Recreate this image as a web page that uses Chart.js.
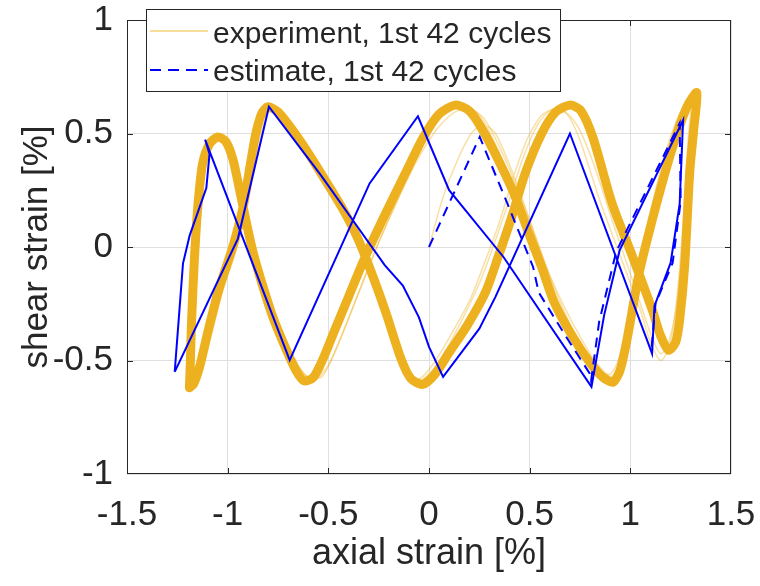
<!DOCTYPE html>
<html>
<head>
<meta charset="utf-8">
<script src="https://cdn.jsdelivr.net/npm/chart.js@4.4.1/dist/chart.umd.min.js"></script>
<style>
  html, body { margin: 0; padding: 0; background: #fff; }
  #chart { display: block; }
</style>
</head>
<body>
<canvas id="chart" width="760" height="586"></canvas>
<script>
// axis ticks
const xTicks = [-1.5, -1, -0.5, 0, 0.5, 1, 1.5];
const yTicks = [-1, -0.5, 0, 0.5, 1];

const seriesNames = ['experiment, 1st 42 cycles', 'estimate, 1st 42 cycles'];

// experiment - main band (where most of the 42 cycles sit), one closed loop
const expX = [-1.19, -1.185, -1.18, -1.165, -1.148, -1.125, -1.09, -1.05, -1.01, -0.975,
    -0.945, -0.91, -0.875, -0.83, -0.775, -0.71, -0.66, -0.62, -0.575, -0.53,
    -0.47, -0.40, -0.32, -0.22, -0.12, -0.03, 0.05, 0.13, 0.20, 0.26,
    0.335, 0.42, 0.50, 0.56, 0.62, 0.71, 0.80, 0.865, 0.915, 0.95,
    0.985, 1.045, 1.13, 1.21, 1.28, 1.33, 1.315, 1.295, 1.27, 1.245,
    1.225, 1.19, 1.15, 1.11, 1.01, 0.91, 0.815, 0.755, 0.70, 0.63,
    0.56, 0.48, 0.41, 0.345, 0.28, 0.19, 0.10, 0.03, -0.03, -0.09,
    -0.14, -0.21, -0.27, -0.35, -0.43, -0.54, -0.63, -0.69, -0.75, -0.80,
    -0.83, -0.86, -0.89, -0.925, -0.975, -1.045, -1.10, -1.14, -1.17, -1.19];
const expY = [-0.62, -0.50, -0.34, -0.05, 0.18, 0.365, 0.455, 0.485, 0.465, 0.39,
    0.27, 0.12, -0.02, -0.16, -0.31, -0.45, -0.545, -0.59, -0.575, -0.50,
    -0.37, -0.22, -0.05, 0.14, 0.32, 0.48, 0.585, 0.625, 0.60, 0.525,
    0.40, 0.24, 0.05, -0.09, -0.24, -0.39, -0.51, -0.575, -0.595, -0.54,
    -0.40, -0.11, 0.19, 0.44, 0.615, 0.68, 0.52, 0.33, -0.08, -0.32,
    -0.42, -0.455, -0.39, -0.28, -0.04, 0.19, 0.48, 0.60, 0.625, 0.595,
    0.50, 0.33, 0.13, -0.04, -0.20, -0.345, -0.465, -0.56, -0.605, -0.58,
    -0.49, -0.30, -0.15, 0.03, 0.17, 0.33, 0.455, 0.53, 0.595, 0.618,
    0.59, 0.50, 0.35, 0.17, 0.0, -0.19, -0.38, -0.53, -0.605, -0.62];

// experiment - first cycle, off the main band (starts at the origin)
const expEarlyX = [0, 0.07, 0.14, 0.21, 0.27, 0.33, 0.41, 0.50, 0.58, 0.67,
    0.76, 0.84, 0.90, 0.94, 0.97, 1.02, 1.09, 1.17, 1.24, 1.30,
    1.285, 1.26, 1.225, 1.19, 1.15, 1.10, 1.05, 0.95, 0.85, 0.75,
    0.69, 0.63, 0.56, 0.49, 0.42, 0.35, 0.28, 0.21, 0.12, 0.04,
    -0.03, -0.09, -0.13, -0.19, -0.26, -0.33, -0.42, -0.52, -0.61, -0.69,
    -0.76, -0.80, -0.84, -0.87, -0.91, -0.96, -1.03, -1.09, -1.14, -1.17,
    -1.18, -1.17, -1.15, -1.12, -1.08, -1.03, -0.98, -0.94, -0.90, -0.85,
    -0.79, -0.72, -0.65, -0.59, -0.53, -0.47, -0.41, -0.33, -0.24, -0.15,
    -0.06, 0.03, 0.11, 0.19, 0.25, 0.31, 0.39, 0.47];
const expEarlyY = [0, 0.22, 0.38, 0.50, 0.54, 0.50, 0.34, 0.12, -0.08, -0.26,
    -0.41, -0.52, -0.57, -0.55, -0.42, -0.18, 0.12, 0.40, 0.58, 0.66,
    0.45, 0.08, -0.28, -0.45, -0.50, -0.42, -0.28, -0.04, 0.20, 0.47,
    0.58, 0.61, 0.58, 0.48, 0.31, 0.11, -0.06, -0.22, -0.37, -0.49,
    -0.57, -0.59, -0.55, -0.40, -0.20, -0.03, 0.15, 0.31, 0.45, 0.55,
    0.60, 0.59, 0.48, 0.33, 0.15, -0.02, -0.21, -0.42, -0.58, -0.61,
    -0.48, -0.20, 0.10, 0.33, 0.44, 0.47, 0.42, 0.28, 0.12, -0.05,
    -0.22, -0.40, -0.52, -0.58, -0.57, -0.47, -0.34, -0.16, 0.04, 0.22,
    0.40, 0.54, 0.61, 0.62, 0.58, 0.49, 0.33, 0.14];

// experiment - second cycle, still drifting
const expSecondX = [-1.20, -1.19, -1.17, -1.14, -1.10, -1.06, -1.01, -0.96, -0.92, -0.87,
    -0.81, -0.75, -0.68, -0.62, -0.56, -0.50, -0.43, -0.35, -0.26, -0.16,
    -0.06, 0.04, 0.12, 0.20, 0.27, 0.34, 0.42, 0.51, 0.60, 0.69,
    0.78, 0.85, 0.90, 0.94, 0.99, 1.06, 1.14, 1.22, 1.28, 1.31,
    1.30, 1.27, 1.23, 1.19, 1.15, 1.10, 1.02, 0.92, 0.82, 0.74,
    0.67, 0.60, 0.54, 0.47, 0.40, 0.33, 0.26, 0.17, 0.08, 0.01,
    -0.05, -0.10, -0.15, -0.22, -0.29, -0.37, -0.47, -0.58, -0.67, -0.74,
    -0.79, -0.83, -0.86, -0.90, -0.95, -1.01, -1.08, -1.14, -1.20];
const expSecondY = [-0.60, -0.30, 0.05, 0.30, 0.44, 0.48, 0.45, 0.33, 0.18, 0.02,
    -0.16, -0.33, -0.48, -0.56, -0.58, -0.52, -0.38, -0.20, 0.0, 0.20,
    0.38, 0.52, 0.59, 0.61, 0.57, 0.46, 0.30, 0.09, -0.13, -0.32,
    -0.47, -0.55, -0.56, -0.50, -0.33, -0.05, 0.24, 0.48, 0.63, 0.66,
    0.45, 0.10, -0.25, -0.42, -0.47, -0.38, -0.17, 0.09, 0.36, 0.53,
    0.60, 0.60, 0.54, 0.40, 0.21, 0.03, -0.14, -0.31, -0.46, -0.55,
    -0.59, -0.56, -0.46, -0.28, -0.11, 0.06, 0.24, 0.41, 0.52, 0.58,
    0.60, 0.55, 0.43, 0.25, 0.06, -0.14, -0.36, -0.55, -0.60];

// estimate - repeating cycle (all cycles lie on top of each other)
const estX = [-1.263, -1.222, -1.189, -1.106, -1.09, -1.112, -0.692, -0.295, -0.055, 0.10,
    0.37, 0.807, 0.87, 0.947, 1.262, 1.245, 1.20, 1.12, 1.108, 0.70,
    0.33, 0.25, 0.07, 0.0, -0.05, -0.13, -0.22, -0.38, -0.54, -0.795,
    -0.949, -1.263];
const estY = [-0.55, -0.073, 0.05, 0.26, 0.41, 0.473, -0.498, 0.28, 0.576, 0.25,
    -0.044, -0.616, -0.30, -0.014, 0.558, 0.19, -0.07, -0.26, -0.47, 0.50,
    -0.22, -0.36, -0.572, -0.44, -0.31, -0.17, -0.08, 0.12, 0.32, 0.618,
    0.037, -0.55];

// estimate - start of the first cycle, leaving the origin
const estFirstX = [0, 0.252, 0.39, 0.517, 0.545, 0.67, 0.798, 0.805, 0.845, 0.93, 1.245, 1.25, 1.21, 1.125, 1.105];
const estFirstY = [0, 0.485, 0.19, -0.088, -0.20, -0.38, -0.557, -0.59, -0.33, -0.02, 0.545, 0.20, -0.07, -0.25, -0.45];

const toPoints = (xs, ys) => xs.map((x, i) => ({ x: x, y: ys[i] }));

const ORANGE = '#EDB120';
const ORANGE_THIN = 'rgba(237, 177, 32, 0.4)';
const BLUE = '#0000FF';
const TEXT = '#262626';
const FONT = '"Liberation Sans", Arial, Helvetica, sans-serif';

// keep the plot box where it is, whatever the tick labels need
function fixBox(s) {
    s.paddingLeft = 0;
    s.paddingRight = 0;
    s.paddingTop = 0;
    s.paddingBottom = 0;
}

// box, inward ticks and the legend, MATLAB style
const axesDecor = {
    id: 'axesDecor',
    beforeDatasetsDraw(chart) {
        const { ctx, chartArea: a, scales: { x, y } } = chart;
        ctx.save();
        ctx.strokeStyle = TEXT;
        ctx.lineWidth = 1;
        ctx.strokeRect(Math.round(a.left) + 0.5, Math.round(a.top) + 0.5,
            Math.round(a.right - a.left) - 1, Math.round(a.bottom - a.top) - 1);
        ctx.beginPath();
        xTicks.slice(1, -1).forEach(v => {
            const px = Math.round(x.getPixelForValue(v)) + 0.5;
            ctx.moveTo(px, a.bottom); ctx.lineTo(px, a.bottom - 6);
            ctx.moveTo(px, a.top); ctx.lineTo(px, a.top + 6);
        });
        yTicks.slice(1, -1).forEach(v => {
            const py = Math.round(y.getPixelForValue(v)) + 0.5;
            ctx.moveTo(a.left, py); ctx.lineTo(a.left + 6, py);
            ctx.moveTo(a.right, py); ctx.lineTo(a.right - 6, py);
        });
        ctx.stroke();
        ctx.restore();
    },
    afterDraw(chart) {
        const ctx = chart.ctx;
        const lx = 146, ly = 9, lw = 414, lh = 82;
        ctx.save();
        ctx.fillStyle = '#fff';
        ctx.fillRect(lx, ly, lw, lh);
        ctx.strokeStyle = TEXT;
        ctx.lineWidth = 1;
        ctx.strokeRect(lx + 0.5, ly + 0.5, lw, lh);

        ctx.lineWidth = 2;
        ctx.strokeStyle = 'rgba(237, 177, 32, 0.45)';
        ctx.beginPath(); ctx.moveTo(150, 31); ctx.lineTo(208, 31); ctx.stroke();
        ctx.strokeStyle = BLUE;
        ctx.setLineDash([11, 7]);
        ctx.beginPath(); ctx.moveTo(150, 70); ctx.lineTo(208, 70); ctx.stroke();
        ctx.setLineDash([]);

        ctx.fillStyle = TEXT;
        ctx.font = '30px ' + FONT;
        ctx.textAlign = 'left';
        ctx.textBaseline = 'alphabetic';
        ctx.fillText(seriesNames[0], 213, 43);
        ctx.fillText(seriesNames[1], 213, 81);
        ctx.restore();
    }
};

new Chart(document.getElementById('chart'), {
    type: 'scatter',
    data: {
        datasets: [
            {
                label: seriesNames[1],
                data: toPoints(estX, estY),
                showLine: true,
                borderColor: BLUE,
                borderWidth: 2,
                pointRadius: 0,
                tension: 0
            },
            {
                label: seriesNames[1] + ' (first)',
                data: toPoints(estFirstX, estFirstY),
                showLine: true,
                borderColor: BLUE,
                borderWidth: 2,
                borderDash: [10, 7],
                pointRadius: 0,
                tension: 0
            },
            {
                label: seriesNames[0],
                data: toPoints(expX, expY),
                showLine: true,
                borderColor: ORANGE,
                borderWidth: 9,
                borderJoinStyle: 'round',
                borderCapStyle: 'round',
                pointRadius: 0,
                tension: 0.25
            },
            {
                label: seriesNames[0] + ' (1st)',
                data: toPoints(expEarlyX, expEarlyY),
                showLine: true,
                borderColor: ORANGE_THIN,
                borderWidth: 1.5,
                pointRadius: 0,
                tension: 0.25
            },
            {
                label: seriesNames[0] + ' (2nd)',
                data: toPoints(expSecondX, expSecondY),
                showLine: true,
                borderColor: ORANGE_THIN,
                borderWidth: 1.5,
                pointRadius: 0,
                tension: 0.25
            }
        ]
    },
    options: {
        responsive: false,
        animation: false,
        devicePixelRatio: 1,
        layout: { padding: { top: 20, right: 29, left: 0, bottom: 0 } },
        plugins: {
            legend: { display: false },
            tooltip: { enabled: false }
        },
        scales: {
            x: {
                type: 'linear',
                min: -1.5,
                max: 1.5,
                afterBuildTicks: s => { s.ticks = xTicks.map(v => ({ value: v })); },
                afterFit: s => { s.height = 112; fixBox(s); },
                grid: { color: '#dfdfdf', drawTicks: false },
                border: { display: false },
                ticks: {
                    padding: 20,
                    color: TEXT,
                    font: { family: FONT, size: 35 },
                    maxRotation: 0,
                    callback: v => String(v)
                },
                title: {
                    display: true,
                    text: 'axial strain [%]',
                    color: TEXT,
                    font: { family: FONT, size: 36 },
                    padding: { top: 0, bottom: 10 }
                }
            },
            y: {
                type: 'linear',
                min: -1,
                max: 1,
                afterBuildTicks: s => { s.ticks = yTicks.map(v => ({ value: v })); },
                afterFit: s => { s.width = 127; fixBox(s); },
                grid: { color: '#dfdfdf', drawTicks: false },
                border: { display: false },
                ticks: {
                    padding: 14,
                    color: TEXT,
                    font: { family: FONT, size: 35 },
                    callback: v => String(v)
                },
                title: {
                    display: true,
                    text: 'shear strain [%]',
                    color: TEXT,
                    font: { family: FONT, size: 35 },
                    padding: { top: 16, bottom: 0 }
                }
            }
        }
    },
    plugins: [axesDecor]
});
</script>
</body>
</html>
